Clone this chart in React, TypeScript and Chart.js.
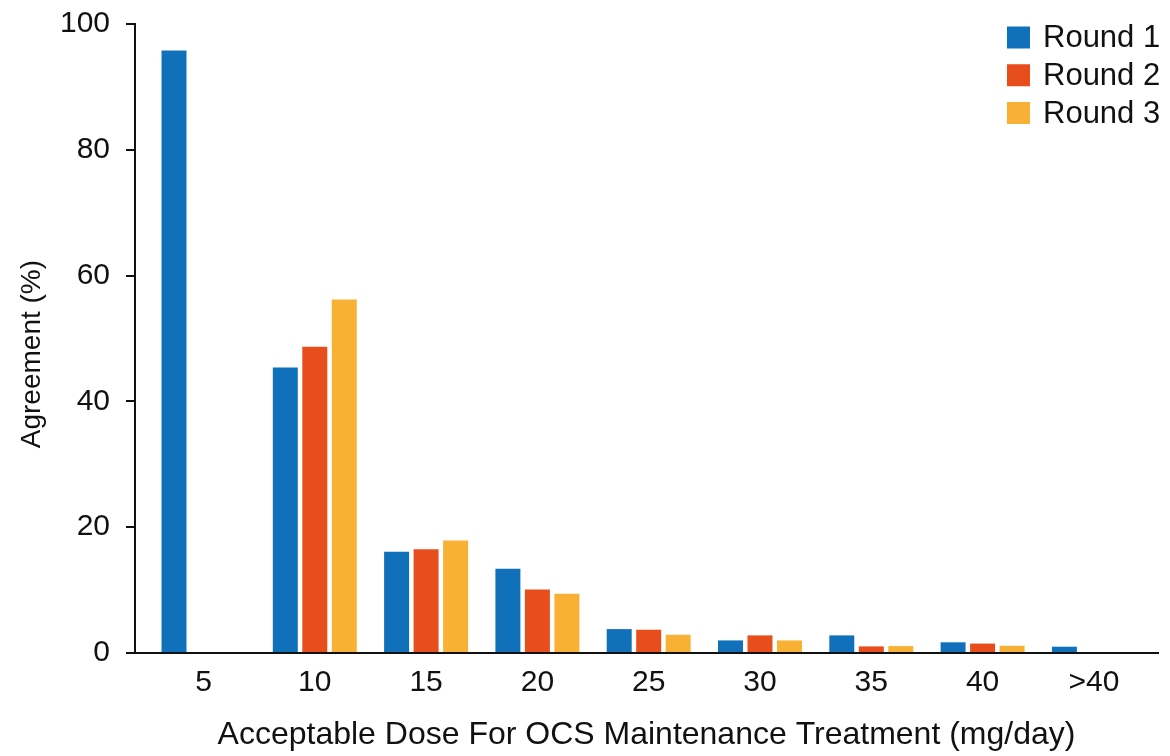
import React, { useEffect, useRef } from "react";
import { Chart, registerables } from "chart.js";

Chart.register(...registerables);

const categories = ["5", "10", "15", "20", "25", "30", "35", "40", ">40"];
const seriesNames = ["Round 1", "Round 2", "Round 3"];
const round1 = [95.8, 45.4, 16.1, 13.4, 3.8, 2.0, 2.8, 1.7, 1.0];
const round2 = [0, 48.7, 16.5, 10.1, 3.7, 2.8, 1.05, 1.5, 0];
const round3 = [0, 56.2, 17.9, 9.4, 2.9, 2.0, 1.1, 1.15, 0];
const colors = ["#1170BA", "#E84E1C", "#F8B135"];
const yTicks = [0, 20, 40, 60, 80, 100];
const xTitle = "Acceptable Dose For OCS Maintenance Treatment (mg/day)";
const yTitle = "Agreement (%)";

const FONT = "'Liberation Sans', Arial, Helvetica, sans-serif";
const INK = "#111111";

const legendPlugin = {
  id: "vertLegend",
  afterDraw(chart: any) {
    const ctx = chart.ctx;
    ctx.save();
    ctx.font = `31px ${FONT}`;
    ctx.textBaseline = "middle";
    ctx.textAlign = "left";
    seriesNames.forEach((name, i) => {
      const cy = 37.5 + i * 37.75;
      ctx.fillStyle = colors[i];
      ctx.fillRect(1007, cy - 11, 23, 22);
      ctx.fillStyle = INK;
      ctx.fillText(name, 1043, cy + 1);
    });
    ctx.restore();
  },
};

export default function App() {
  const ref = useRef<HTMLCanvasElement>(null);
  useEffect(() => {
    if (!ref.current) return;
    const series = [round1, round2, round3];
    const chart = new Chart(ref.current, {
      type: "bar",
      data: {
        datasets: series.map((vals, s) => ({
          label: seriesNames[s],
          data: vals.map((v, i) => ({ x: i + 1, y: v })),
          backgroundColor: colors[s],
          borderWidth: 0,
          categoryPercentage: 0.795,
          barPercentage: 0.847,
        })),
      },
      options: {
        responsive: true,
        maintainAspectRatio: false,
        animation: false,
        devicePixelRatio: 1,
        layout: { padding: { top: 24, right: 12, left: 0, bottom: 0 } },
        plugins: { legend: { display: false }, tooltip: { enabled: false } },
        scales: {
          x: {
            type: "linear",
            offset: false,
            min: 0.3846,
            max: 9.576,
            afterBuildTicks: (axis: any) => {
              axis.ticks = categories.map((_, i) => ({ value: i + 1 }));
            },
            afterFit: (scale: any) => {
              scale.height = 103;
              scale.paddingLeft = 0;
              scale.paddingRight = 0;
            },
            grid: { display: false, drawTicks: false, offset: false },
            border: { display: true, color: INK, width: 2 },
            ticks: {
              padding: 12,
              color: INK,
              font: { family: FONT, size: 30 },
              maxRotation: 0,
              autoSkip: false,
              callback: (v: any) => {
                const idx = Math.round(Number(v)) - 1;
                return categories[idx] ?? "";
              },
            },
            title: {
              display: true,
              text: xTitle,
              color: INK,
              font: { family: FONT, size: 32 },
              padding: { top: 0, bottom: 2 },
            },
          },
          y: {
            min: 0,
            max: 100,
            afterBuildTicks: (axis: any) => {
              axis.ticks = yTicks.map((v) => ({ value: v }));
            },
            afterFit: (scale: any) => {
              scale.width = 135;
              scale.paddingTop = 0;
              scale.paddingBottom = 0;
            },
            grid: {
              drawOnChartArea: false,
              drawTicks: true,
              tickLength: 9,
              color: INK,
              lineWidth: 2,
            },
            border: { display: true, color: INK, width: 2 },
            ticks: {
              padding: 16,
              color: INK,
              font: { family: FONT, size: 30 },
            },
            title: {
              display: true,
              text: yTitle + "    ",
              color: INK,
              font: { family: FONT, size: 28 },
              padding: { top: 15, bottom: 0 },
            },
          },
        },
      },
      plugins: [legendPlugin],
    } as any);
    return () => chart.destroy();
  }, []);

  return (
    <div
      style={{
        position: "fixed",
        left: 0,
        top: 0,
        width: 1170,
        height: 756,
        background: "#fff",
      }}
    >
      <canvas ref={ref} />
    </div>
  );
}
